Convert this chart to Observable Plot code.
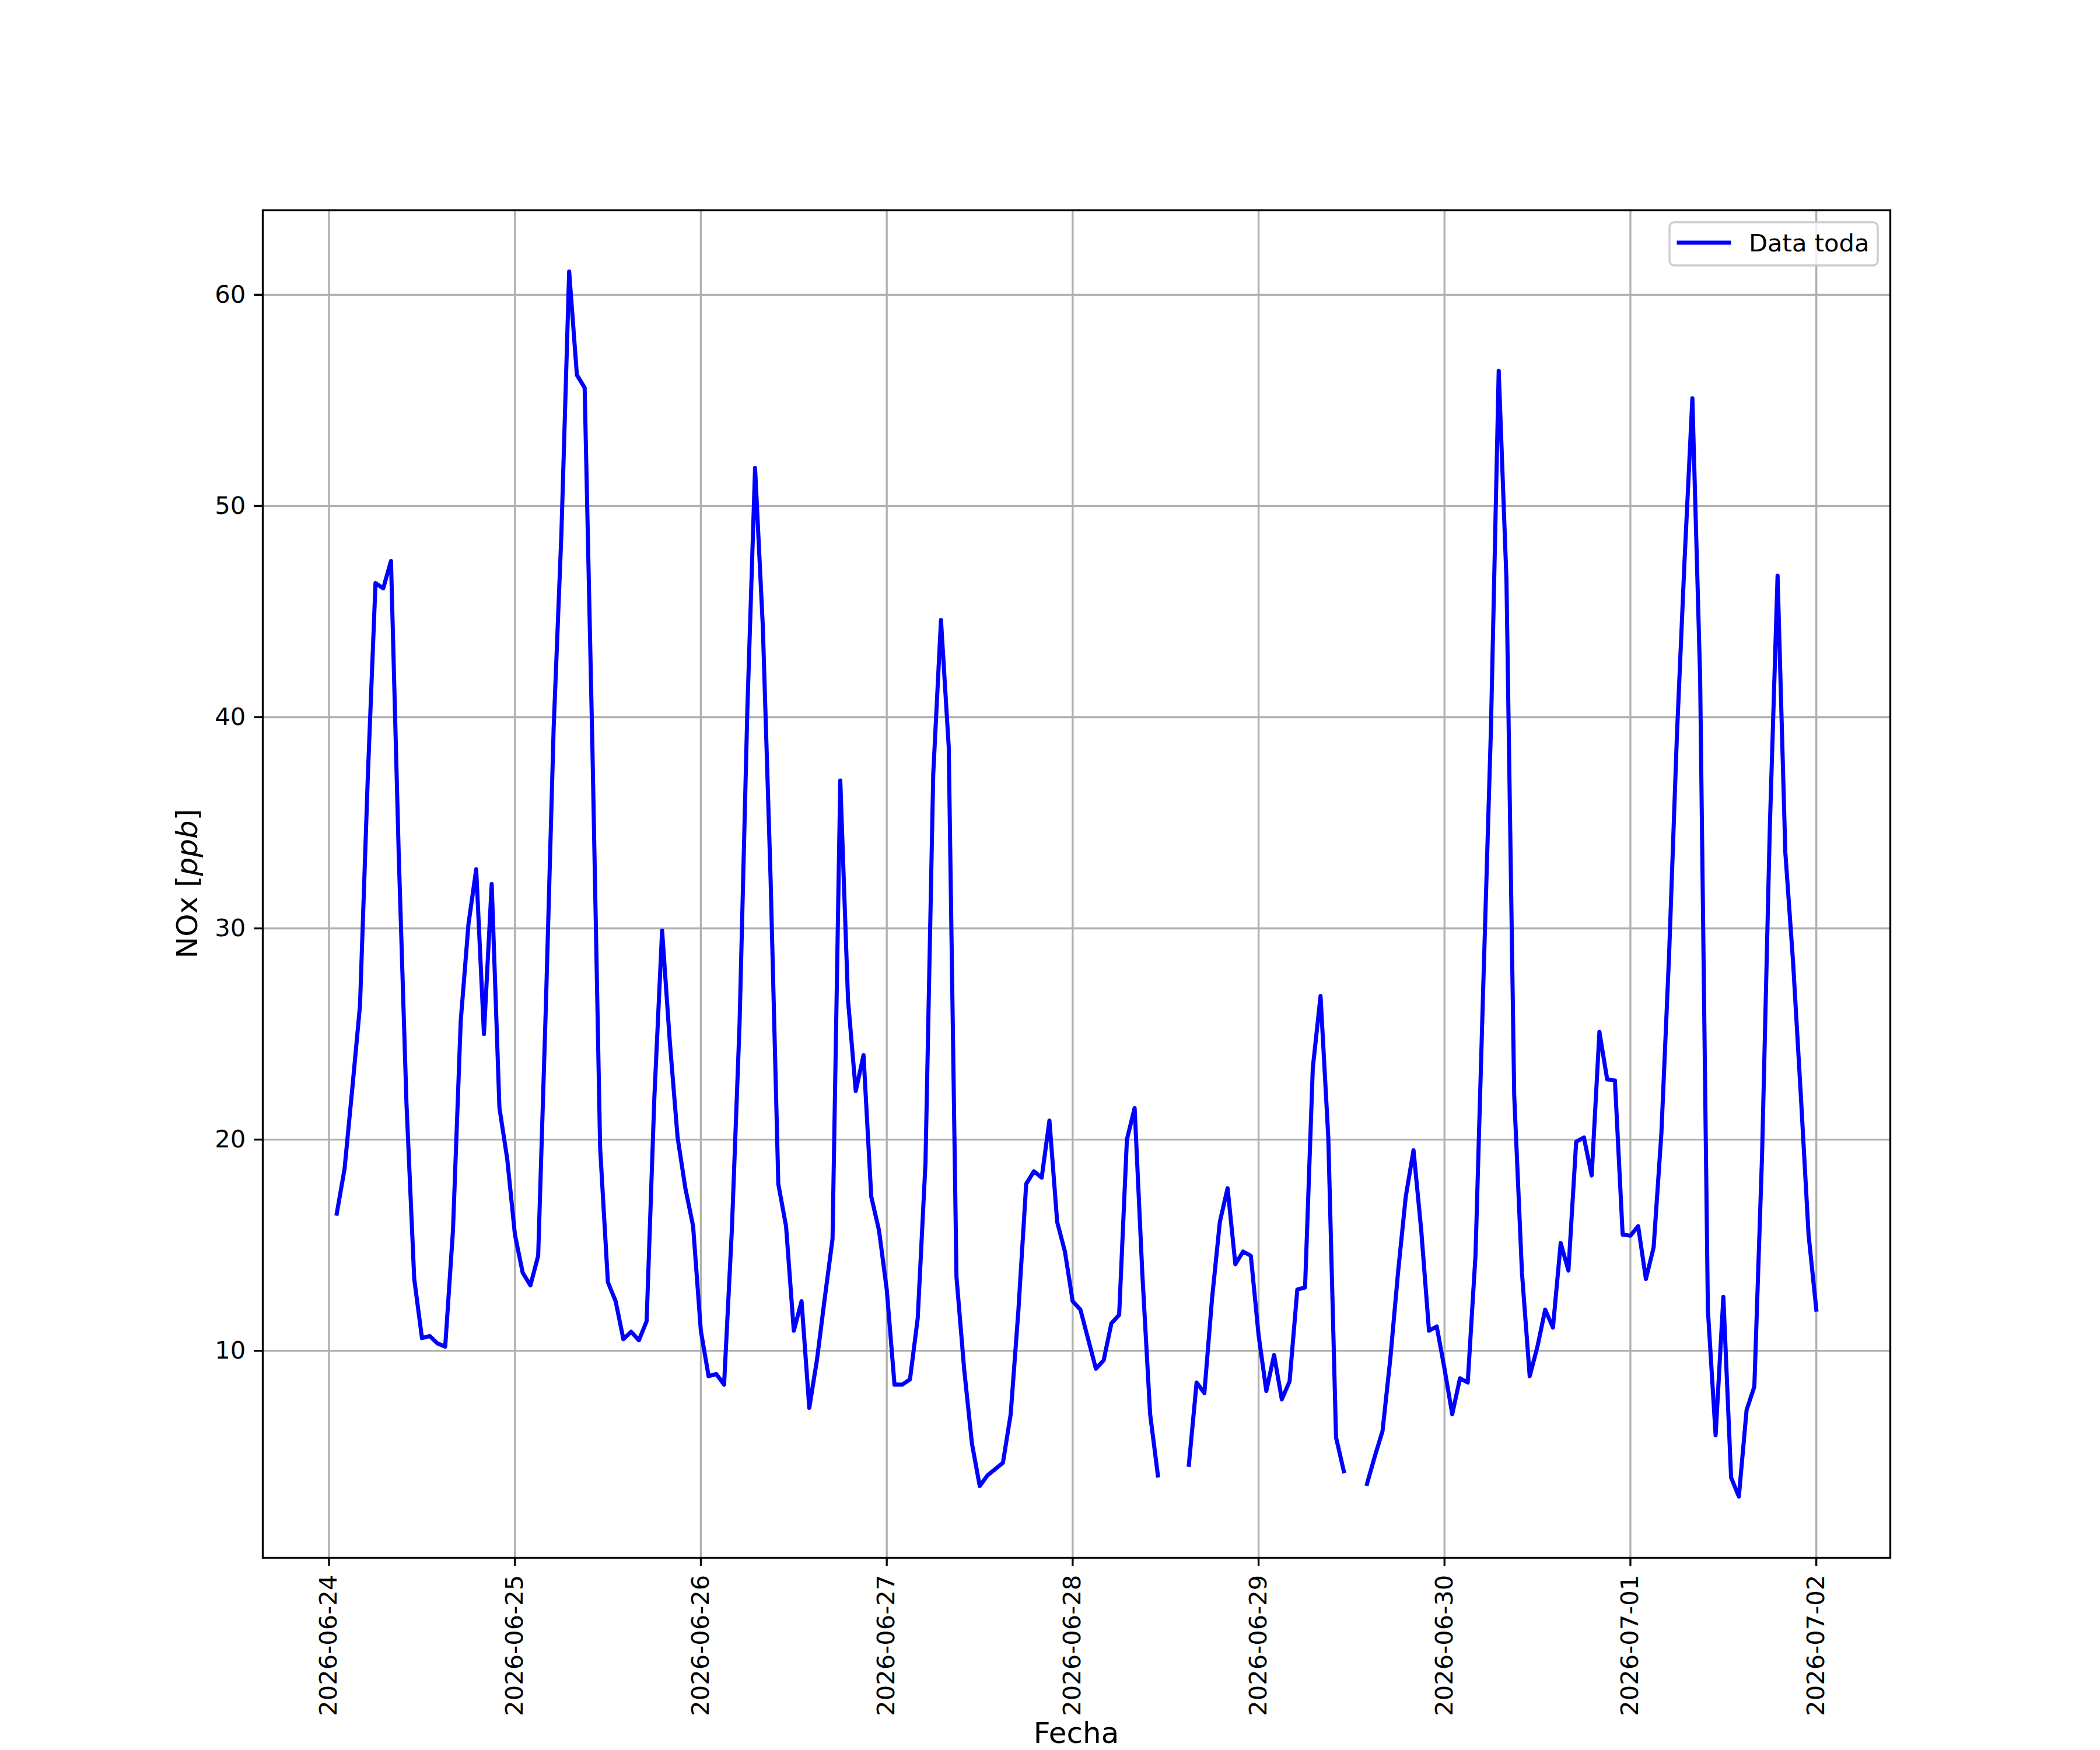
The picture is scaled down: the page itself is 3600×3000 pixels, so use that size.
<!DOCTYPE html>
<html>
<head>
<meta charset="utf-8">
<script src="https://cdn.jsdelivr.net/npm/d3@7"></script>
<script src="https://cdn.jsdelivr.net/npm/@observablehq/plot@0.6"></script>
<style>
html, body { margin: 0; padding: 0; background: #fff; }
svg { display: block; }
</style>
</head>
<body>
<div id="chart"></div>
<script>
// Hourly NOx values [ppb]; each array starts at the given hour of its day
const nox_0624 = [16.5, 18.6, 22.4, 26.35, 37.1, 46.35, 46.1, 47.4, 33.5, 21.7, 13.4, 10.6, 10.7, 10.35, 10.2, 15.7, 25.6, 30.2, 32.8, 25.0, 32.1, 21.5, 19.1];
const nox_0625 = [15.5, 13.7, 13.1, 14.5, 26.4, 39.5, 48.7, 61.1, 56.2, 55.6, 38.6, 19.6, 13.25, 12.35, 10.55, 10.9, 10.5, 11.4, 22.0, 29.9, 24.6, 20.1, 17.7, 15.9];
const nox_0626 = [10.95, 8.8, 8.9, 8.4, 15.7, 25.5, 40.3, 51.8, 44.3, 32.4, 17.9, 15.9, 10.95, 12.35, 7.3, 9.6, 12.5, 15.3, 37.0, 26.6, 22.3, 24.0, 17.3, 15.7];
const nox_0627 = [12.9, 8.4, 8.4, 8.65, 11.55, 18.9, 37.3, 44.6, 38.6, 13.5, 9.1, 5.6, 3.6, 4.1, 4.4, 4.7, 7.0, 11.95, 17.9, 18.5, 18.2, 20.9, 16.1, 14.7];
const nox_0628 = [12.35, 11.95, 10.55, 9.15, 9.55, 11.3, 11.7, 20.0, 21.5, 13.6, 7.0, 4.1, NaN, NaN, NaN, 4.6, 8.5, 8.0, 12.5, 16.1, 17.7, 14.1, 14.7, 14.5];
const nox_0629 = [10.75, 8.1, 9.8, 7.7, 8.55, 12.9, 13.0, 23.4, 26.8, 20.1, 5.9, 4.3, NaN, NaN, 3.7, 5.0, 6.2, 9.6, 13.7, 17.3, 19.5, 15.7, 10.95, 11.15];
const nox_0630 = [9.15, 7.0, 8.7, 8.5, 14.5, 27.2, 39.5, 56.4, 46.5, 22.1, 13.7, 8.8, 10.2, 11.95, 11.1, 15.1, 13.8, 19.9, 20.1, 18.3, 25.1, 22.85, 22.8, 15.5];
const nox_0701 = [15.45, 15.9, 13.4, 14.9, 20.3, 28.8, 39.1, 47.5, 55.1, 41.9, 11.95, 6.0, 12.55, 4.0, 3.1, 7.2, 8.3, 19.3, 34.8, 46.7, 33.6, 28.4, 22.1, 15.5];
const nox_0702 = [11.95];

const dayBlocks = [
  ["2026-06-24", 1, nox_0624],
  ["2026-06-25", 0, nox_0625],
  ["2026-06-26", 0, nox_0626],
  ["2026-06-27", 0, nox_0627],
  ["2026-06-28", 0, nox_0628],
  ["2026-06-29", 0, nox_0629],
  ["2026-06-30", 0, nox_0630],
  ["2026-07-01", 0, nox_0701],
  ["2026-07-02", 0, nox_0702]
];

const xTickLabels = ["2026-06-24", "2026-06-25", "2026-06-26", "2026-06-27", "2026-06-28", "2026-06-29", "2026-06-30", "2026-07-01", "2026-07-02"];
const yTicks = [10, 20, 30, 40, 50, 60];
const legendLabel = "Data toda";
const xLabel = "Fecha";

// Build the table
const data = [];
dayBlocks.forEach(([day, h0, vals]) => {
  const base = Date.parse(day + "T00:00:00Z");
  vals.forEach((v, i) => data.push({ t: new Date(base + (h0 + i) * 3600e3), v }));
});
const xTicks = xTickLabels.map(s => new Date(s + "T00:00:00Z"));

// matplotlib-like 5% margins
const tExt = d3.extent(data, d => +d.t);
const tSpan = tExt[1] - tExt[0];
const xDomain = [new Date(tExt[0] - 0.05 * tSpan), new Date(tExt[1] + 0.05 * tSpan)];
const vExt = d3.extent(data.filter(d => Number.isFinite(d.v)), d => d.v);
const vSpan = vExt[1] - vExt[0];
const yDomain = [vExt[0] - 0.05 * vSpan, vExt[1] + 0.05 * vSpan];

const PT = 300 / 72;          // px per point at 300 dpi
const FS = 10 * PT;           // tick font size
const LW = 0.8 * PT;          // axes line width
const TL = 3.5 * PT;          // tick length / pad
const fmt = d3.utcFormat("%Y-%m-%d");

const chart = Plot.plot({
  width: 3600,
  height: 3000,
  marginLeft: 450,
  marginRight: 360,
  marginTop: 360,
  marginBottom: 330,
  style: { fontFamily: "'DejaVu Sans', sans-serif", fontSize: FS + "px", background: "white", color: "black", overflow: "visible" },
  x: { type: "utc", domain: xDomain },
  y: { domain: yDomain },
  marks: [
    Plot.gridX(xTicks, { stroke: "#b0b0b0", strokeOpacity: 1, strokeWidth: LW }),
    Plot.gridY(yTicks, { stroke: "#b0b0b0", strokeOpacity: 1, strokeWidth: LW }),
    Plot.line(data, { x: "t", y: "v", stroke: "#0000ff", strokeWidth: 7, strokeLinejoin: "round", strokeLinecap: "square" }),
    Plot.frame({ stroke: "black", strokeWidth: LW }),
    Plot.axisY(yTicks, { anchor: "left", tickSize: TL, tickPadding: TL, strokeWidth: LW, fontSize: FS, label: null, textAnchor: "end", lineAnchor: "middle" }),
    Plot.axisX(xTicks, { anchor: "bottom", tickSize: TL, tickPadding: TL, strokeWidth: LW, fontSize: FS, label: null, tickRotate: -90, tickFormat: fmt, textAnchor: "end", lineAnchor: "middle" })
  ]
});

const svg = d3.select(chart);

// x label
svg.append("text")
  .attr("x", (450 + 3240) / 2)
  .attr("y", 2988)
  .attr("text-anchor", "middle")
  .attr("font-size", 12 * PT)
  .attr("fill", "black")
  .text(xLabel);

// y label: NOx [ppb] with italic ppb
const yl = svg.append("text")
  .attr("transform", "translate(338,1515) rotate(-90)")
  .attr("text-anchor", "middle")
  .attr("font-size", 12 * PT)
  .attr("fill", "black");
yl.append("tspan").text("NOx [");
yl.append("tspan").attr("font-style", "italic").text("ppb");
yl.append("tspan").text("]");

// legend
const lg = svg.append("g");
lg.append("rect")
  .attr("x", 2862).attr("y", 381).attr("width", 357).attr("height", 74)
  .attr("rx", 8).attr("ry", 8)
  .attr("fill", "white").attr("fill-opacity", 0.8)
  .attr("stroke", "#cccccc").attr("stroke-width", LW);
lg.append("line")
  .attr("x1", 2878).attr("x2", 2964).attr("y1", 416).attr("y2", 416)
  .attr("stroke", "#0000ff").attr("stroke-width", 7).attr("stroke-linecap", "square");
lg.append("text")
  .attr("x", 2998).attr("y", 431)
  .attr("text-anchor", "start")
  .attr("font-size", FS).attr("fill", "black")
  .text(legendLabel);

document.getElementById("chart").appendChild(chart);
</script>
</body>
</html>
